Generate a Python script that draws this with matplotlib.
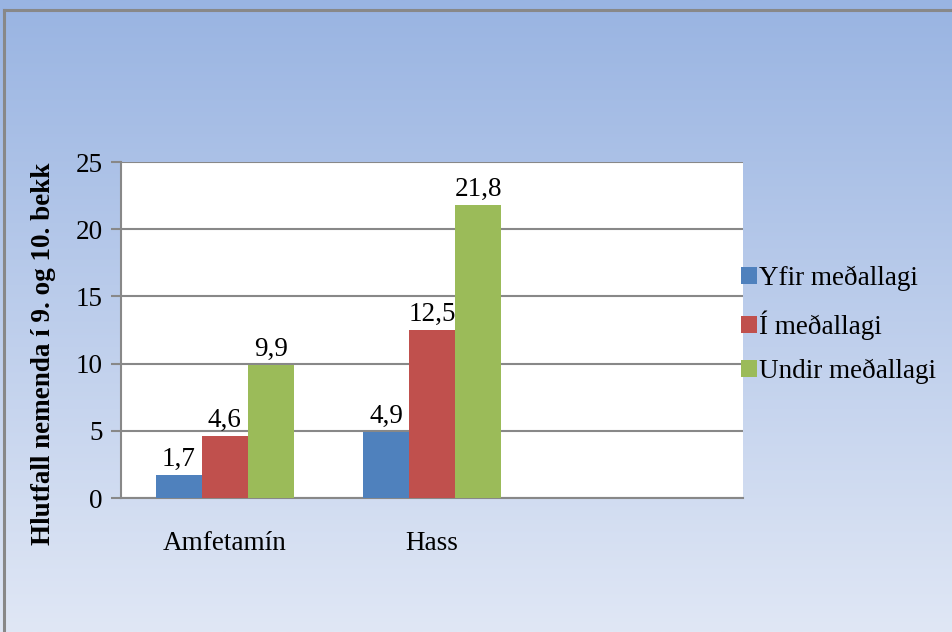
import numpy as np
import matplotlib
matplotlib.use("Agg")
import matplotlib.pyplot as plt
from matplotlib.lines import Line2D
from matplotlib.patches import Patch

# Data
categories = ["Amfetamín", "Hass", ""]
series_names = ["Yfir meðallagi", "Í meðallagi", "Undir meðallagi"]
yfir = [1.7, 4.9, None]
i_medal = [4.6, 12.5, None]
undir = [9.9, 21.8, None]
colors = ["#4F81BD", "#C0504D", "#9BBB59"]
y_ticks = [0, 5, 10, 15, 20, 25]

plt.rcParams["font.family"] = ["Liberation Serif", "DejaVu Serif"]
FS = 19.5

fig = plt.figure(figsize=(9.52, 6.32), dpi=100)

# Gradient background for the chart area
bg = fig.add_axes([0, 0, 1, 1], zorder=-10)
grad = np.linspace(0, 1, 256).reshape(-1, 1)
top = np.array([0x99, 0xB4, 0xE2]) / 255
bot = np.array([0xE0, 0xE7, 0xF5]) / 255
img = top[None, None, :] * (1 - grad[:, :, None]) + bot[None, None, :] * grad[:, :, None]
bg.imshow(img, aspect="auto", extent=[0, 1, 0, 1], origin="upper")
bg.set_xlim(0, 1)
bg.set_ylim(0, 1)
bg.axis("off")

# Outer frame (left and top edges)
W, H = 952, 632
fig.add_artist(Line2D([3.5 / W, 3.5 / W], [0, 1 - 9.5 / H], transform=fig.transFigure,
                      color="#888888", lw=2.2))
fig.add_artist(Line2D([3.5 / W, 1], [1 - 9.5 / H, 1 - 9.5 / H], transform=fig.transFigure,
                      color="#888888", lw=2.2))

ax = fig.add_axes([121 / W, 1 - 498 / H, (743 - 121) / W, (498 - 162) / H])
ax.set_facecolor("white")

x = np.arange(len(categories))
bw = 0.222
all_series = [yfir, i_medal, undir]
for k, (vals, col, name) in enumerate(zip(all_series, colors, series_names)):
    xs = [x[i] + (k - 1) * bw for i, v in enumerate(vals) if v is not None]
    vs = [v for v in vals if v is not None]
    ax.bar(xs, vs, width=bw, color=col, label=name, zorder=3)
    for xx, v in zip(xs, vs):
        ax.annotate(f"{v:.1f}".replace(".", ","), (xx, v), xytext=(0, 2),
                    textcoords="offset points", ha="center", va="bottom",
                    fontsize=FS, color="black")

ax.set_xlim(-0.5, 2.5)
ax.set_ylim(0, 25)
ax.set_yticks(y_ticks)
ax.set_yticklabels([str(t) for t in y_ticks], fontsize=FS)
ax.set_xticks(x)
ax.set_xticklabels(categories, fontsize=FS)
ax.tick_params(axis="x", length=0, pad=24)
ax.tick_params(axis="y", length=7, width=1.5, color="#888888", pad=6)
ax.yaxis.grid(True, color="#888888", lw=1.5, zorder=0)
ax.set_axisbelow(True)
for s in ["top", "right"]:
    ax.spines[s].set_visible(False)
for s in ["left", "bottom"]:
    ax.spines[s].set_color("#888888")
    ax.spines[s].set_linewidth(1.5)

ax.set_ylabel("Hlutfall nemenda í 9. og 10. bekk", fontsize=FS, fontweight="bold")
ax.yaxis.set_label_coords(-0.105, 0.43)

handles = [Patch(facecolor=c, label=n) for c, n in zip(colors, series_names)]
fig.legend(handles=handles, loc="center left",
           bbox_to_anchor=(741 / W, 1 - 325 / H), frameon=False,
           borderaxespad=0, borderpad=0,
           fontsize=FS, handlelength=0.58, handleheight=0.58,
           handletextpad=0.08, labelspacing=0.72)

fig.savefig("out.png", dpi=100)
